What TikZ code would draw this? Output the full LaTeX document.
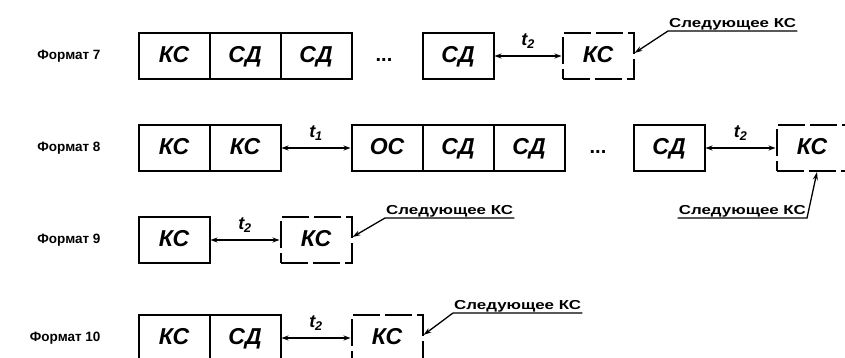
\documentclass[tikz,border=0pt]{standalone}
\usepackage{fontspec}
\setmainfont{Liberation Sans}
\newfontfamily\widefont[FakeStretch=1.3]{Liberation Sans}
\usetikzlibrary{arrows.meta,positioning}

\begin{document}
\begin{tikzpicture}[x=1pt,y=-1pt,
    cell/.style={draw,line width=2pt,minimum width=71pt,minimum height=46pt,inner sep=0pt,
      text height=16pt,text depth=3pt,
      font=\fontsize{23}{23}\selectfont\bfseries\itshape},
    nextcell/.style={cell,dash pattern=on 27pt off 5pt},
    fmt/.style={anchor=east,font=\fontsize{13.5}{13.5}\selectfont\bfseries},
    gap/.style={{Stealth[length=7pt,width=5pt]}-{Stealth[length=7pt,width=5pt]},line width=1.3pt},
    lead/.style={-{Stealth[length=8pt,width=5pt]},line width=1.3pt},
    nexttext/.style={inner sep=1pt,font=\widefont\fontsize{13}{13}\selectfont\bfseries},
    tlabel/.style={above=4pt,font=\fontsize{18}{18}\selectfont\bfseries\itshape},
    dots/.style={anchor=base,font=\fontsize{20}{20}\selectfont\bfseries}]
        \clip (0,0) rectangle (845,358);
        % Формат 7
        \node[fmt] (f7) at (104,56) {Формат 7};
        \node[cell] (a7) at (174,56) {КС};
        \node[cell] (b7) at (245,56) {СД};
        \node[cell] (c7) at (316,56) {СД};
        \node[dots] (d7) at (384,62) {...};
        \node[cell] (e7) at (458,56) {СД};
        \node[nextcell] (k7) at (598,56) {КС};
        \draw[gap] (e7.east) -- (k7.west) node[midway,tlabel] (t7) {t\textsubscript{2}};
        \node[nexttext,anchor=south west] (n7) at (668,31) {Следующее КС};
        \draw[lead] (n7.south east) -- (n7.south west) -- ([yshift=3pt]k7.east);
        % Формат 8
        \node[fmt] (f8) at (104,148) {Формат 8};
        \node[cell] (a8) at (174,148) {КС};
        \node[cell] (b8) at (245,148) {КС};
        \node[cell] (c8) at (387,148) {ОС};
        \node[cell] (d8) at (458,148) {СД};
        \node[cell] (e8) at (529,148) {СД};
        \node[dots] (p8) at (598,154) {...};
        \node[cell] (g8) at (669,148) {СД};
        \node[nextcell] (k8) at (812,148) {КС};
        \draw[gap] (b8.east) -- (c8.west) node[midway,tlabel] (t8a) {t\textsubscript{1}};
        \draw[gap] (g8.east) -- (k8.west) node[midway,tlabel] (t8b) {t\textsubscript{2}};
        \node[nexttext,anchor=south east] (n8) at (807,218) {Следующее КС};
        \draw[lead] (n8.south west) -- (n8.south east) -- ([xshift=5pt]k8.south);
        % Формат 9
        \node[fmt] (f9) at (104,240) {Формат 9};
        \node[cell] (a9) at (174,240) {КС};
        \node[nextcell] (k9) at (316,240) {КС};
        \draw[gap] (a9.east) -- (k9.west) node[midway,tlabel] (t9) {t\textsubscript{2}};
        \node[nexttext,anchor=south west] (n9) at (385,218) {Следующее КС};
        \draw[lead] (n9.south east) -- (n9.south west) -- ([yshift=3pt]k9.east);
        % Формат 10
        \node[fmt] (f10) at (104,338) {Формат 10};
        \node[cell] (a10) at (174,338) {КС};
        \node[cell] (b10) at (245,338) {СД};
        \node[nextcell] (k10) at (387,338) {КС};
        \draw[gap] (b10.east) -- (k10.west) node[midway,tlabel] (t10) {t\textsubscript{2}};
        \node[nexttext,anchor=south west] (n10) at (453,313) {Следующее КС};
        \draw[lead] (n10.south east) -- (n10.south west) -- ([yshift=3pt]k10.east);
\end{tikzpicture}
\end{document}
